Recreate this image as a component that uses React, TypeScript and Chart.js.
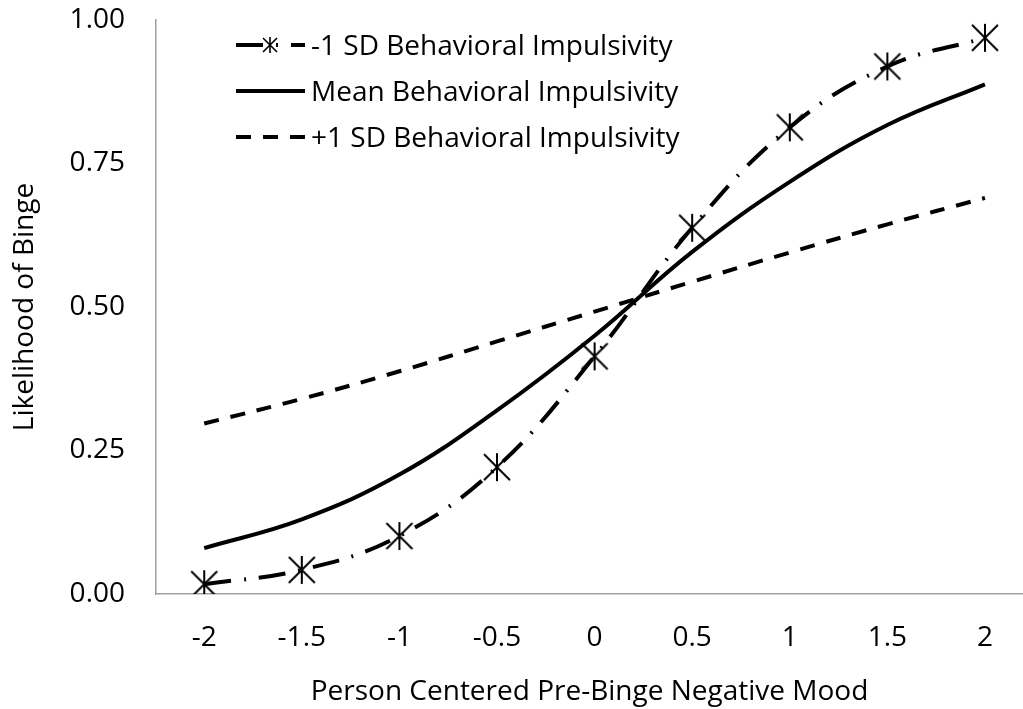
import React, { useEffect, useRef } from "react";
import { Chart, registerables } from "chart.js";

Chart.register(...registerables);

// ---- data ----
const xValues = [-2, -1.5, -1, -0.5, 0, 0.5, 1, 1.5, 2];
const xTickLabels = ["-2", "-1.5", "-1", "-0.5", "0", "0.5", "1", "1.5", "2"];
const yTickValues = [0, 0.25, 0.5, 0.75, 1];
const yTickLabels = ["0.00", "0.25", "0.50", "0.75", "1.00"];
const seriesNames = [
  "-1 SD Behavioral Impulsivity",
  "Mean Behavioral Impulsivity",
  "+1 SD Behavioral Impulsivity",
];
const lowSD = [0.017, 0.042, 0.101, 0.221, 0.414, 0.638, 0.813, 0.919, 0.969];
const meanBI = [0.08, 0.13, 0.208, 0.32, 0.45, 0.596, 0.718, 0.817, 0.888];
const highSD = [0.297, 0.34, 0.388, 0.44, 0.492, 0.544, 0.595, 0.644, 0.69];
const xTitle = "Person Centered Pre-Binge Negative Mood";
const yTitle = "Likelihood of Binge";

const FONT_FAMILY = '"Open Sans", sans-serif';
const FONT_SIZE = 28;

function makeStar(size: number, lw: number): HTMLCanvasElement {
  const c = document.createElement("canvas");
  c.width = size;
  c.height = size;
  const ctx = c.getContext("2d")!;
  ctx.strokeStyle = "#000";
  ctx.lineWidth = lw;
  const m = 1;
  ctx.beginPath();
  ctx.moveTo(size / 2, m);
  ctx.lineTo(size / 2, size - m);
  ctx.moveTo(m + 1, m + 1);
  ctx.lineTo(size - m - 1, size - m - 1);
  ctx.moveTo(size - m - 1, m + 1);
  ctx.lineTo(m + 1, size - m - 1);
  ctx.stroke();
  return c;
}

const legendPlugin = {
  id: "customLegend",
  afterDraw(chart: any) {
    const ctx = chart.ctx as CanvasRenderingContext2D;
    const smallStar = makeStar(18, 1.6);
    ctx.save();
    chart.data.datasets.forEach((ds: any, i: number) => {
      const y = 45 + i * 46;
      ctx.beginPath();
      ctx.setLineDash(ds.borderDash || []);
      ctx.lineWidth = ds.borderWidth;
      ctx.strokeStyle = "#000";
      ctx.lineCap = "butt";
      ctx.moveTo(236, y);
      ctx.lineTo(305, y);
      ctx.stroke();
      ctx.setLineDash([]);
      if (ds.pointStyle instanceof HTMLCanvasElement) {
        ctx.drawImage(smallStar, 270 - smallStar.width / 2, y - smallStar.height / 2);
      }
      ctx.font = `${FONT_SIZE}px ${FONT_FAMILY}`;
      ctx.fillStyle = "#000";
      ctx.textBaseline = "middle";
      ctx.textAlign = "left";
      ctx.fillText(ds.label, 311, y + 2);
    });
    ctx.restore();
  },
};

const zeroPad = (scale: any) => {
  scale.paddingTop = 0;
  scale.paddingBottom = 0;
  scale.paddingLeft = 0;
  scale.paddingRight = 0;
};

export default function App() {
  const canvasRef = useRef<HTMLCanvasElement | null>(null);

  useEffect(() => {
    if (!canvasRef.current) return;
    const star = makeStar(30, 2);
    const toPts = (arr: number[]) => xValues.map((x, i) => ({ x, y: arr[i] }));
    const chart = new Chart(canvasRef.current, {
      type: "line",
      data: {
        datasets: [
          {
            label: seriesNames[0],
            data: toPts(lowSD),
            borderColor: "#000",
            backgroundColor: "#000",
            borderWidth: 4,
            borderDash: [27, 13, 2, 13],
            pointStyle: star as any,
            pointRadius: 14,
            tension: 0.4,
            fill: false,
          },
          {
            label: seriesNames[1],
            data: toPts(meanBI),
            borderColor: "#000",
            borderWidth: 4,
            pointRadius: 0,
            tension: 0.4,
            fill: false,
          },
          {
            label: seriesNames[2],
            data: toPts(highSD),
            borderColor: "#000",
            borderWidth: 4,
            borderDash: [15, 12],
            pointRadius: 0,
            tension: 0.4,
            fill: false,
          },
        ],
      },
      options: {
        responsive: false,
        animation: false,
        devicePixelRatio: 1,
        layout: { autoPadding: false, padding: { left: 0, right: 0, top: 20, bottom: 0 } },
        plugins: {
          legend: { display: false },
          tooltip: { enabled: false },
        },
        scales: {
          x: {
            type: "linear",
            min: -2.247,
            max: 2.195,
            grid: { display: false, drawTicks: false },
            border: { display: true, color: "#a0a0a0", width: 1.5 },
            afterBuildTicks: (scale: any) => {
              scale.ticks = xValues.map((v) => ({ value: v }));
            },
            afterFit: (scale: any) => {
              scale.height = 115;
              zeroPad(scale);
            },
            ticks: {
              padding: 27,
              color: "#000",
              font: { family: FONT_FAMILY, size: FONT_SIZE },
              maxRotation: 0,
              autoSkip: false,
              callback: (v: any) => {
                const idx = xValues.indexOf(Number(v));
                return idx >= 0 ? xTickLabels[idx] : "";
              },
            },
            title: {
              display: true,
              text: xTitle,
              color: "#000",
              font: { family: FONT_FAMILY, size: FONT_SIZE },
              padding: { top: 0, bottom: 0 },
            },
          },
          y: {
            type: "linear",
            min: 0,
            max: 1,
            grid: { display: false, drawTicks: false },
            border: { display: true, color: "#a0a0a0", width: 1.5 },
            afterBuildTicks: (scale: any) => {
              scale.ticks = yTickValues.map((v) => ({ value: v }));
            },
            afterFit: (scale: any) => {
              scale.width = 156;
              zeroPad(scale);
            },
            ticks: {
              padding: 31,
              color: "#000",
              font: { family: FONT_FAMILY, size: FONT_SIZE },
              callback: (v: any) => {
                const idx = yTickValues.indexOf(Number(v));
                return idx >= 0 ? yTickLabels[idx] : "";
              },
            },
            title: {
              display: true,
              text: yTitle,
              color: "#000",
              font: { family: FONT_FAMILY, size: FONT_SIZE },
              padding: { top: 8, bottom: 0 },
            },
          },
        },
      },
      plugins: [legendPlugin],
    } as any);
    return () => chart.destroy();
  }, []);

  return (
    <div style={{ position: "absolute", left: 0, top: 0, width: 1023, height: 709, background: "#fff" }}>
      <canvas ref={canvasRef} width={1023} height={709} style={{ display: "block", width: 1023, height: 709 }} />
    </div>
  );
}
